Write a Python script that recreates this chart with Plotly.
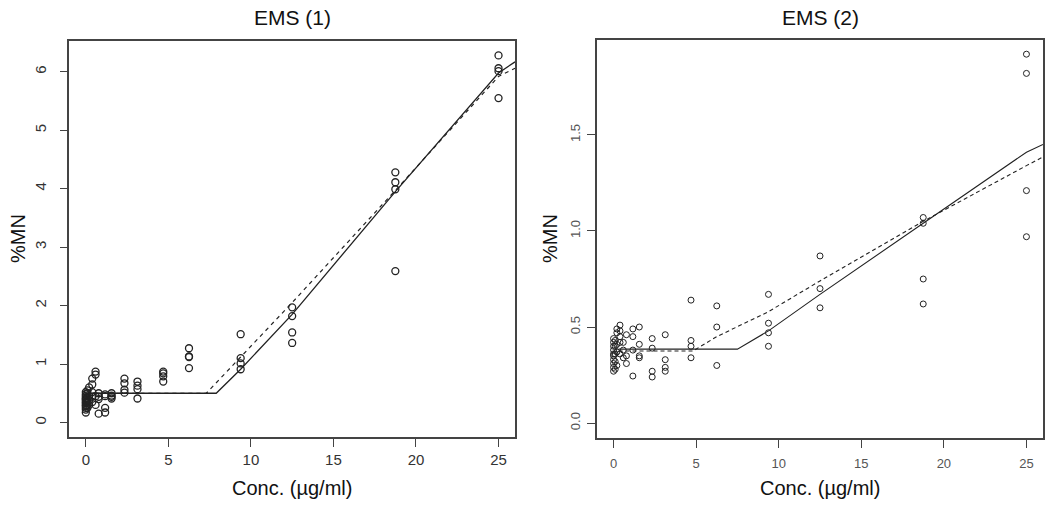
import plotly.graph_objects as go

# ---------------- data: EMS (1) ----------------
ems1_conc = [0]*13 + [0.1]*6 + [0.2]*4 + [0.39]*5 + [0.59]*4 + [0.78]*4 + [1.17]*4 + [1.56]*4 \
    + [2.34]*4 + [3.13]*4 + [4.69]*4 + [6.25]*4 + [9.38]*4 + [12.5]*4 + [18.75]*4 + [25]*4
ems1_mn = [0.17, 0.22, 0.25, 0.28, 0.30, 0.33, 0.35, 0.38, 0.40, 0.42, 0.45, 0.48, 0.52,
           0.25, 0.30, 0.35, 0.42, 0.50, 0.55,
           0.30, 0.38, 0.45, 0.60,
           0.35, 0.44, 0.52, 0.65, 0.75,
           0.87, 0.82, 0.45, 0.30,
           0.40, 0.44, 0.50, 0.15,
           0.17, 0.25, 0.45, 0.48,
           0.50, 0.46, 0.41, 0.44,
           0.75, 0.67, 0.56, 0.51,
           0.70, 0.63, 0.57, 0.41,
           0.87, 0.84, 0.79, 0.70,
           1.27, 1.13, 1.12, 0.93,
           1.51, 1.10, 1.01, 0.91,
           1.97, 1.82, 1.54, 1.36,
           4.28, 4.11, 3.99, 2.59,
           6.28, 6.06, 6.01, 5.55]
ems1_fit_x = [0.4, 7.9, 9.38, 12.5, 18.75, 25, 26]
ems1_fit_y = [0.50, 0.50, 0.91, 1.85, 3.95, 5.98, 6.17]
ems1_alt_x = [0.4, 7.3, 9.38, 12.5, 18.75, 25, 26]
ems1_alt_y = [0.50, 0.50, 1.12, 2.05, 3.97, 5.92, 6.06]

# ---------------- data: EMS (2) ----------------
ems2_conc = [0]*10 + [0.1]*5 + [0.2]*5 + [0.39]*5 + [0.59]*3 + [0.78]*3 + [1.17]*4 + [1.56]*4 \
    + [2.34]*4 + [3.13]*4 + [4.69]*4 + [6.25]*3 + [9.38]*4 + [12.5]*3 + [18.75]*4 + [25]*4
ems2_mn = [0.27, 0.29, 0.31, 0.33, 0.35, 0.36, 0.38, 0.40, 0.42, 0.44,
           0.28, 0.32, 0.36, 0.40, 0.43,
           0.30, 0.37, 0.41, 0.47, 0.49,
           0.36, 0.42, 0.45, 0.48, 0.51,
           0.42, 0.38, 0.34,
           0.35, 0.46, 0.31,
           0.49, 0.45, 0.38, 0.245,
           0.50, 0.41, 0.34, 0.35,
           0.44, 0.39, 0.27, 0.24,
           0.46, 0.33, 0.29, 0.27,
           0.64, 0.43, 0.40, 0.34,
           0.61, 0.50, 0.30,
           0.67, 0.52, 0.47, 0.40,
           0.87, 0.70, 0.60,
           1.07, 1.04, 0.75, 0.62,
           1.92, 1.82, 1.21, 0.97]
ems2_fit_x = [0.3, 7.5, 9.38, 12.5, 18.75, 25, 26]
ems2_fit_y = [0.385, 0.385, 0.48, 0.67, 1.04, 1.41, 1.45]
ems2_alt_x = [0.3, 4.8, 6.25, 9.38, 12.5, 18.75, 25, 26]
ems2_alt_y = [0.375, 0.375, 0.45, 0.58, 0.74, 1.05, 1.34, 1.385]

x_ticks = [0, 5, 10, 15, 20, 25]
y1_ticks = [0, 1, 2, 3, 4, 5, 6]
y2_ticks = [0.0, 0.5, 1.0, 1.5]
y2_labels = ["0.0", "0.5", "1.0", "1.5"]

INK = "#222222"
FONT = "Liberation Sans, Arial, sans-serif"
W, H = 1050, 510

fig = go.Figure()

# left panel
fig.add_trace(go.Scatter(x=ems1_conc, y=ems1_mn, mode="markers", xaxis="x", yaxis="y",
                         marker=dict(symbol="circle-open", size=7, color=INK, line=dict(width=1.3)),
                         showlegend=False, cliponaxis=False))
fig.add_trace(go.Scatter(x=ems1_fit_x, y=ems1_fit_y, mode="lines", xaxis="x", yaxis="y",
                         line=dict(color=INK, width=1.3), showlegend=False))
fig.add_trace(go.Scatter(x=ems1_alt_x, y=ems1_alt_y, mode="lines", xaxis="x", yaxis="y",
                         line=dict(color=INK, width=1.2, dash="4px,4px"), showlegend=False))
# right panel
fig.add_trace(go.Scatter(x=ems2_conc, y=ems2_mn, mode="markers", xaxis="x2", yaxis="y2",
                         marker=dict(symbol="circle-open", size=6, color=INK, line=dict(width=1)),
                         showlegend=False, cliponaxis=False))
fig.add_trace(go.Scatter(x=ems2_fit_x, y=ems2_fit_y, mode="lines", xaxis="x2", yaxis="y2",
                         line=dict(color=INK, width=1.1), showlegend=False))
fig.add_trace(go.Scatter(x=ems2_alt_x, y=ems2_alt_y, mode="lines", xaxis="x2", yaxis="y2",
                         line=dict(color=INK, width=1.1, dash="4px,3px"), showlegend=False))

axis_common = dict(showgrid=False, zeroline=False, showline=True, mirror=True, automargin=False,
                   linecolor="#444444", linewidth=1.5, ticks="outside", ticklen=8,
                   tickcolor="#444444", tickwidth=1.2)


def ann(text, px, py, size, angle=0):
    return dict(text=text, x=px / W, y=1 - py / H, xref="paper", yref="paper",
                showarrow=False, textangle=angle, xanchor="center", yanchor="middle",
                font=dict(size=size, color="#111111"))


fig.update_layout(
    width=W, height=H,
    margin=dict(l=0, r=0, t=0, b=0, pad=0),
    paper_bgcolor="white", plot_bgcolor="white",
    font=dict(family=FONT, color=INK),
    xaxis=dict(domain=[0.066, 0.4905], range=[-1, 26], tickvals=x_ticks,
               tickfont=dict(size=15, color="#333333"), anchor="y", **axis_common),
    yaxis=dict(domain=[0.143, 0.92], range=[-0.25, 6.53], tickvals=y1_ticks, tickangle=-90,
               ticklabelstandoff=8,
               tickfont=dict(size=15, color="#333333"), anchor="x", **axis_common),
    xaxis2=dict(domain=[0.5686, 0.9933], range=[-1, 26], tickvals=x_ticks, ticklabelstandoff=5,
                tickfont=dict(size=13, color="#555555"), anchor="y2", **axis_common),
    yaxis2=dict(domain=[0.141, 0.922], range=[-0.078, 1.995], tickvals=y2_ticks, ticktext=y2_labels,
                tickangle=-90, ticklabelstandoff=2,
                tickfont=dict(size=13, color="#555555"), anchor="x2", **axis_common),
    annotations=[
        ann("EMS (1)", 292, 18, 21),
        ann("EMS (2)", 820, 18, 21),
        ann("Conc. (µg/ml)", 292, 488, 20),
        ann("Conc. (µg/ml)", 820, 488, 20),
        ann("%MN", 18, 239, 20, -90),
        ann("%MN", 550, 239, 20, -90),
    ],
)

fig.write_html("out.html", config={"displayModeBar": False},
               post_script="document.body.style.margin='0px';document.body.style.overflow='hidden';")
